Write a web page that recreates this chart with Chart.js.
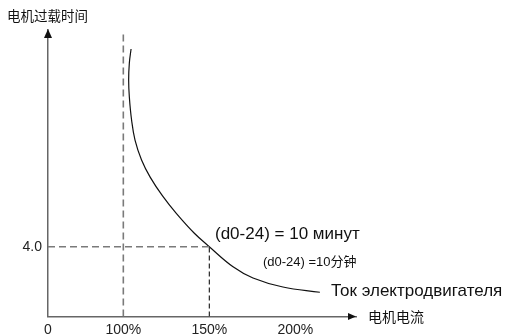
<!DOCTYPE html>
<html><head><meta charset="utf-8">
<script src="https://cdn.jsdelivr.net/npm/chart.js@4/dist/chart.umd.min.js"></script>
<style>html,body{margin:0;padding:0;background:#fff;}canvas{display:block;}</style>
</head><body>
<canvas id="c" width="505" height="334"></canvas>
<script>
// ---- data ----
const X_MIN = 56.2;          // axis origin value (labelled "0")
const X_MAX = 235.3;
const Y_MAX = 16.42;
const xTickValues = [X_MIN, 100, 150, 200];
const xTickLabels = ["0", "100%", "150%", "200%"];
const yTickValues = [4];
const yTickLabels = ["4.0"];
const curveX = [104.5, 103.5, 103.1, 103.5, 104.8, 106.8, 110.6, 115.6, 122.8, 130.8, 141.3, 150, 163.8, 175.4, 192.8, 214.3];
const curveY = [15.33, 14.53, 13.55, 12.58, 11.26, 10.11, 8.97, 7.99, 6.91, 5.91, 4.77, 4.0, 2.85, 2.21, 1.69, 1.39];
const refX100 = [100, 100];
const refY100 = [0, 16.3];
const refXh = [X_MIN, 150];
const refYh = [4, 4];
const refX150 = [150, 150];
const refY150 = [0, 4];
const yTitle = "电机过载时间";
const xTitle = "电机电流";
const note1 = "(d0-24) = 10 минут";
const note2 = "(d0-24) =10分钟";
const curveLabel = "Ток электродвигателя";

const FONT = "'Liberation Sans', Arial, 'Noto Sans CJK SC', sans-serif";
const pts = (xs, ys) => xs.map((x, i) => ({x, y: ys[i]}));

const decor = {
  id: 'decor',
  afterDraw(chart) {
    const ctx = chart.ctx, a = chart.chartArea;
    ctx.save();
    ctx.fillStyle = '#111';
    // arrow heads
    ctx.beginPath();
    ctx.moveTo(a.left, a.top - 1);
    ctx.lineTo(a.left - 4, a.top + 8);
    ctx.lineTo(a.left + 4, a.top + 8);
    ctx.closePath(); ctx.fill();
    ctx.beginPath();
    ctx.moveTo(a.right, a.bottom);
    ctx.lineTo(a.right - 8, a.bottom - 3.5);
    ctx.lineTo(a.right - 8, a.bottom + 3.5);
    ctx.closePath(); ctx.fill();
    // texts
    ctx.textBaseline = 'middle';
    ctx.textAlign = 'left';
    ctx.fillStyle = '#111';
    ctx.font = "13.5px 'Noto Sans CJK SC', sans-serif";
    ctx.fillText(yTitle, 7, 16);
    ctx.font = "14px 'Noto Sans CJK SC', sans-serif";
    ctx.fillText(xTitle, 368, 317);
    ctx.font = "17px " + FONT;
    ctx.fillText(note1, 215, 234);
    ctx.fillText(curveLabel, 331, 291);
    ctx.font = "13px " + FONT;
    ctx.fillText(note2, 263, 262);
    ctx.restore();
  }
};

new Chart(document.getElementById('c'), {
  type: 'scatter',
  data: {
    datasets: [
      {data: pts(refX100, refY100), showLine: true, borderColor: '#7a7a7a', borderWidth: 1.6, borderDash: [7, 4], pointRadius: 0},
      {data: pts(refXh, refYh), showLine: true, borderColor: '#7a7a7a', borderWidth: 1.6, borderDash: [7, 4], pointRadius: 0},
      {data: pts(refX150, refY150), showLine: true, borderColor: '#111', borderWidth: 1.1, borderDash: [5, 3], pointRadius: 0},
      {data: pts(curveX, curveY), showLine: true, borderColor: '#111', borderWidth: 1.2, tension: 0.4, pointRadius: 0}
    ]
  },
  options: {
    responsive: false,
    animation: false,
    devicePixelRatio: 1,
    layout: {padding: {top: 30, right: 149, left: 0, bottom: 0}},
    plugins: {legend: {display: false}, tooltip: {enabled: false}},
    scales: {
      x: {
        type: 'linear', min: X_MIN, max: X_MAX,
        grid: {display: false, drawTicks: false},
        border: {display: true, color: '#666', width: 1.5},
        afterBuildTicks: s => { s.ticks = xTickValues.map(v => ({value: v})); },
        afterFit: s => { s.height = 17.5; },
        ticks: {
          autoSkip: false, maxRotation: 0, padding: 5, color: '#222',
          font: {family: FONT, size: 14},
          callback: (v) => { const i = xTickValues.indexOf(v); return i >= 0 ? xTickLabels[i] : ''; }
        }
      },
      y: {
        type: 'linear', min: 0, max: Y_MAX,
        grid: {display: false, drawTicks: false},
        border: {display: true, color: '#666', width: 1.5},
        afterBuildTicks: s => { s.ticks = yTickValues.map(v => ({value: v})); },
        afterFit: s => { s.width = 48; },
        ticks: {
          autoSkip: false, padding: 6, color: '#222',
          font: {family: FONT, size: 14},
          callback: (v) => { const i = yTickValues.indexOf(v); return i >= 0 ? yTickLabels[i] : ''; }
        }
      }
    }
  },
  plugins: [decor]
});
</script>
</body></html>
